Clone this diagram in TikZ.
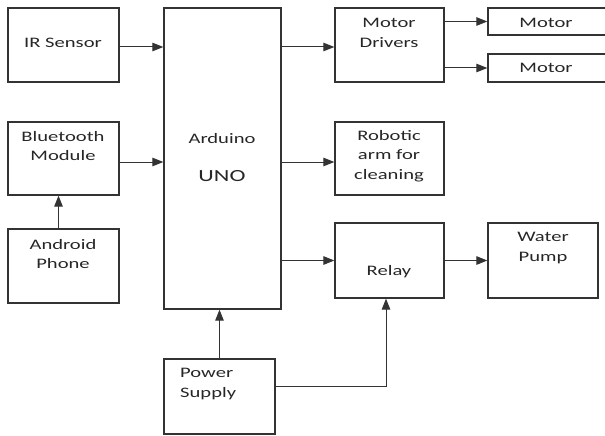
\documentclass[tikz,border=0pt]{standalone}
\usepackage{fontspec}
\setmainfont{Carlito}[FakeStretch=1.42]
\usetikzlibrary{arrows.meta}
\definecolor{lc}{HTML}{333333}
\definecolor{tc}{HTML}{262626}
\tikzset{
  box/.style={draw=lc, line width=1.2pt, rectangle, inner sep=0pt},
  txt/.style={text=tc, inner sep=0pt, align=center, font=\fontsize{14.5}{19.5}\selectfont},
  arr/.style={draw=lc, line width=1pt, -{Triangle[length=11pt,width=8.5pt]}},
}
\newcommand{\bx}[5]{\node[box, minimum width={#4-#2}, minimum height={#5-#3}] (#1) at ({(#2+#4)/2},{(#3+#5)/2}) {};}
\begin{document}
\begin{tikzpicture}[x=1pt,y=-1pt]
\useasboundingbox (0,0) rectangle (605,436);
\clip (0,0) rectangle (605,436);
% boxes
\bx{ir}{8}{8}{119}{82}
\bx{bt}{8}{122}{119}{195}
\bx{and}{8}{229}{119}{303}
\bx{ard}{164}{8}{281}{309}
\bx{md}{335}{8}{444}{82}
\bx{mA}{488}{8}{608}{35}
\bx{mB}{488}{54}{608}{82}
\bx{arm}{335}{122}{444}{195}
\bx{rel}{335}{223}{444}{298}
\bx{wp}{488}{223}{598}{298}
\bx{ps}{164}{359}{275}{434}
% texts
\node[txt] (tir) at (63,43) {IR Sensor};
\node[txt] (tbt) at (63,146) {Bluetooth\\Module};
\node[txt] (tand) at (63,254) {Android\\Phone};
\node[txt] (tard) at (222,139) {Arduino};
\node[txt, font=\fontsize{17}{20}\selectfont] (tuno) at (222,176) {UNO};
\node[txt] (tmd) at (389,33) {Motor\\Drivers};
\node[txt] (tmA) at (546,23) {Motor};
\node[txt] (tmB) at (546,68) {Motor};
\node[txt] (tarm) at (389,156) {Robotic\\arm for\\cleaning};
\node[txt] (trel) at (389,272) {Relay};
\node[txt] (twp) at (543,248) {Water\\Pump};
\node[txt, align=left, anchor=west] (tps) at (180,384) {Power\\Supply};
% connectors
\draw[arr] ([yshift=-2]ir.east) -- ([yshift=-2]ir.east -| ard.west);
\draw[arr] ([yshift=-3.5]bt.east) -- ([yshift=-3.5]bt.east -| ard.west);
\draw[arr] ([xshift=-5]and.north) -- ([xshift=-5]bt.south);
\draw[arr] ([yshift=-2]md.west -| ard.east) -- ([yshift=-2]md.west);
\draw[arr] (mA.west -| md.east) -- (mA.west);
\draw[arr] (mB.west -| md.east) -- (mB.west);
\draw[arr] ([yshift=-3.5]arm.west -| ard.east) -- ([yshift=-3.5]arm.west);
\draw[arr] (ard.east |- rel.west) -- (rel.west);
\draw[arr] (rel.east) -- (rel.east -| wp.west);
\draw[arr] (ps.north) -- (ps.north |- ard.south);
\coordinate (pj) at ([yshift=10]ps.east);
\draw[arr] (pj) -| ([xshift=-3.5]rel.south);
\end{tikzpicture}
\end{document}
